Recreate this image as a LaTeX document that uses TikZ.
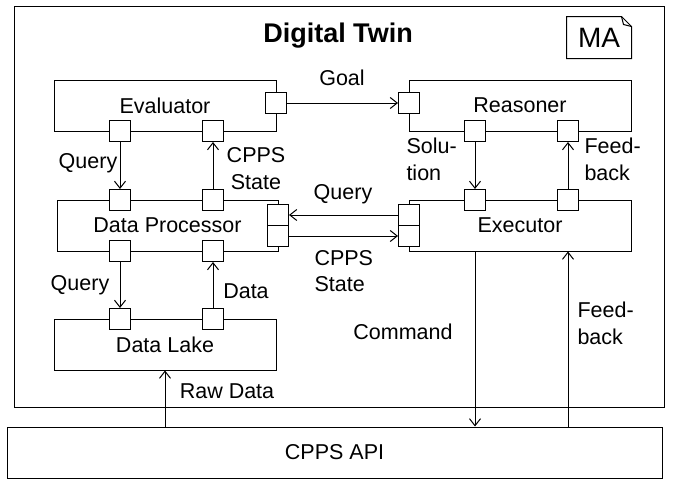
\documentclass[tikz,border=0pt]{standalone}
\usepackage{fontspec}
\setmainfont{Liberation Sans}
\usetikzlibrary{arrows.meta}
\newcommand\lblfont{\fontsize{21.5pt}{26.5pt}\selectfont}
\newcommand\ttlfont{\fontsize{27pt}{32pt}\selectfont\bfseries}
\newcommand\mafont{\fontsize{28pt}{32pt}\selectfont}
\begin{document}
\begin{tikzpicture}[x=1pt,y=-1pt,line width=1pt,
  box/.style={draw,inner sep=0pt,minimum width=222pt,minimum height=51pt,font=\lblfont},
  port/.style={draw,fill=white,inner sep=0pt,minimum size=21pt},
  arr/.style={-{Straight Barb[length=7pt,width=11pt]}},
  lbl/.style={inner sep=0pt,font=\lblfont}]
\useasboundingbox (0,0) rectangle (673,479);
% outer containers
\node[draw,inner sep=0pt,minimum width=650pt,minimum height=401pt] (dt) at (339,206.5) {};
\node[lbl,font=\ttlfont,anchor=base] (title) at (338,42) {Digital Twin};
\node[inner sep=0pt,minimum width=64pt,minimum height=41pt,font=\mafont] (ma) at (599,37.5) {MA};
\draw (ma.north west) -- ([xshift=-10pt]ma.north east) -- ([yshift=-10pt]ma.north east) -- (ma.south east) -- (ma.south west) -- cycle;
\draw ([xshift=-10pt]ma.north east) -- ([xshift=-8pt,yshift=-8pt]ma.north east) -- ([yshift=-10pt]ma.north east);
% components
\node[box] (ev) at (165,105.5) {Evaluator};
\node[box,minimum width=221pt] (dp) at (167.5,225.5) {Data Processor};
\node[box] (dl) at (165,344.5) {Data Lake};
\node[box] (re) at (520,105.5) {Reasoner};
\node[box] (ex) at (520,225.5) {Executor};
\node[box,minimum width=655pt] (api) at (334.5,452.5) {CPPS API};
% ports
\node[port] (evg) at (276,103) {};
\node[port] (ev1) at (120,131) {};
\node[port] (ev2) at (213,131) {};
\node[port] (dp1) at (120,200) {};
\node[port] (dp2) at (213,200) {};
\node[port] (dp3) at (120,251) {};
\node[port] (dp4) at (213,251) {};
\node[port] (dpa) at (278,215) {};
\node[port] (dpb) at (278,236) {};
\node[port] (dl1) at (120,319) {};
\node[port] (dl2) at (213,319) {};
\node[port] (reg) at (409,103) {};
\node[port] (re1) at (475,131) {};
\node[port] (re2) at (568,131) {};
\node[port] (ex1) at (475,200) {};
\node[port] (ex2) at (568,200) {};
\node[port] (exa) at (409,215) {};
\node[port] (exb) at (409,236) {};
% connectors
\draw[arr] (evg.east) -- (reg.west);
\draw[arr] (ev1.south) -- (dp1.north);
\draw[arr] (dp2.north) -- (ev2.south);
\draw[arr] (exa.west) -- (dpa.east);
\draw[arr] (dpb.east) -- (exb.west);
\draw[arr] (re1.south) -- (ex1.north);
\draw[arr] (ex2.north) -- (re2.south);
\draw[arr] (dp3.south) -- (dl1.north);
\draw[arr] (dl2.north) -- (dp4.south);
\draw[arr] (api.north -| dl.south) -- (dl.south);
\draw[arr] (ex.south -| ex1) -- (api.north -| ex1);
\draw[arr] (api.north -| ex2) -- (ex.south -| ex2);
% labels
\node[lbl,anchor=base] (lgoal) at (342,85.5) {Goal};
\node[lbl,anchor=base] (lq1) at (88,168) {Query};
\node[lbl,align=center] (ls1) at (256,168.5) {CPPS\\State};
\node[lbl,anchor=base] (lq2) at (343,199) {Query};
\node[lbl,align=left,anchor=west] (ls2) at (314,271) {CPPS\\State};
\node[lbl,align=left,anchor=west] (lsol) at (406,159.5) {Solu-\\tion};
\node[lbl,align=left,anchor=west] (lfb1) at (584,159.5) {Feed-\\back};
\node[lbl,anchor=base] (lq3) at (80,290) {Query};
\node[lbl,anchor=base] (ldata) at (246,298) {Data};
\node[lbl,anchor=base] (lraw) at (227,398) {Raw Data};
\node[lbl,anchor=base] (lcmd) at (403,339) {Command};
\node[lbl,align=left,anchor=west] (lfb2) at (577,323.5) {Feed-\\back};
\end{tikzpicture}
\end{document}
